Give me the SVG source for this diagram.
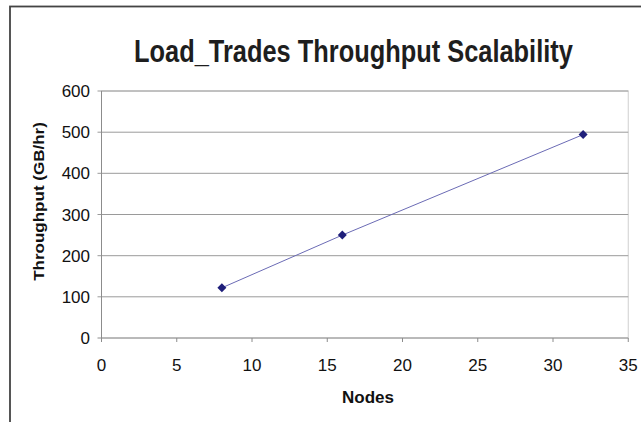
<svg xmlns="http://www.w3.org/2000/svg" width="641" height="422" viewBox="0 0 641 422">
<style>
.grid{stroke:#9a9a9a;stroke-width:1;fill:none}
.axis{stroke:#8c8c8c;stroke-width:1;fill:none}
.tick{font-family:"Liberation Sans",Arial,sans-serif;font-size:17px;fill:#111}
.lbl{font-family:"Liberation Sans",Arial,sans-serif;font-size:17px;font-weight:bold;fill:#111}
.title{font-family:"Liberation Sans",Arial,sans-serif;font-size:25.4px;font-weight:bold;fill:#1e1e1e}
.mk{fill:#1f1f7a}
</style>
<defs>
<path id="dia" d="M0,-4.5 L4.5,0 L0,4.5 L-4.5,0 Z" class="mk"/>
</defs>
<rect x="0" y="0" width="641" height="422" fill="#fff"/>
<rect x="10" y="6.5" width="640" height="420" fill="#fff" stroke="#444" stroke-width="1.8"/>
<text class="title" x="0" y="0" transform="translate(134,62) scale(1,1.22)">Load_Trades Throughput Scalability</text>
<g id="plot">
<rect x="101.5" y="91" width="526.75" height="247" fill="#fff" stroke="#cfcfcf" stroke-width="1"/>
<g id="gridlines">
<line class="grid" x1="97.5" y1="91" x2="628.25" y2="91" stroke="#c8c8c8"/>
<line class="grid" x1="97.5" y1="132.2" x2="628.25" y2="132.2"/>
<line class="grid" x1="97.5" y1="173.3" x2="628.25" y2="173.3"/>
<line class="grid" x1="97.5" y1="214.5" x2="628.25" y2="214.5"/>
<line class="grid" x1="97.5" y1="255.7" x2="628.25" y2="255.7"/>
<line class="grid" x1="97.5" y1="296.8" x2="628.25" y2="296.8"/>
</g>
<g id="axes">
<line class="axis" x1="101.5" y1="91" x2="101.5" y2="338"/>
<line class="axis" x1="97.5" y1="338" x2="628.25" y2="338"/>
<line class="axis" x1="101.5" y1="338" x2="101.5" y2="342"/>
<line class="axis" x1="176.75" y1="338" x2="176.75" y2="342"/>
<line class="axis" x1="252" y1="338" x2="252" y2="342"/>
<line class="axis" x1="327.25" y1="338" x2="327.25" y2="342"/>
<line class="axis" x1="402.5" y1="338" x2="402.5" y2="342"/>
<line class="axis" x1="477.75" y1="338" x2="477.75" y2="342"/>
<line class="axis" x1="553" y1="338" x2="553" y2="342"/>
<line class="axis" x1="628.25" y1="338" x2="628.25" y2="342"/>
</g>
<g id="ytick-labels" text-anchor="end">
<text class="tick" x="90" y="97">600</text>
<text class="tick" x="90" y="138.2">500</text>
<text class="tick" x="90" y="179.3">400</text>
<text class="tick" x="90" y="220.5">300</text>
<text class="tick" x="90" y="261.7">200</text>
<text class="tick" x="90" y="302.8">100</text>
<text class="tick" x="90" y="344">0</text>
</g>
<g id="xtick-labels" text-anchor="middle">
<text class="tick" x="101.5" y="371">0</text>
<text class="tick" x="176.75" y="371">5</text>
<text class="tick" x="252" y="371">10</text>
<text class="tick" x="327.25" y="371">15</text>
<text class="tick" x="402.5" y="371">20</text>
<text class="tick" x="477.75" y="371">25</text>
<text class="tick" x="553" y="371">30</text>
<text class="tick" x="628.25" y="371">35</text>
</g>
<text class="lbl" x="368" y="403" text-anchor="middle">Nodes</text>
<text class="lbl" x="0" y="0" text-anchor="middle" font-size="21" transform="translate(44,201.5) rotate(-90) scale(1,0.857)">Throughput (GB/hr)</text>
</g>
<g id="series">
<polyline points="221.9,287.8 342.3,235.1 583.1,134.6" fill="none" stroke="#6b6bb5" stroke-width="1"/>
<use href="#dia" x="221.9" y="287.8"/>
<use href="#dia" x="342.3" y="235.1"/>
<use href="#dia" x="583.1" y="134.6"/>
</g>
</svg>
